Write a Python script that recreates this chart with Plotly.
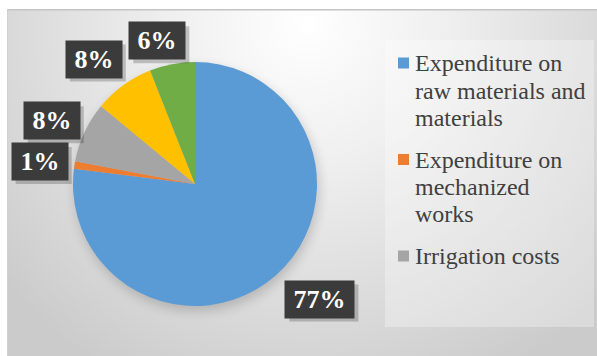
import base64
import math
import plotly.graph_objects as go

# ---- data ----
categories = [
    "Expenditure on raw materials and materials",
    "Expenditure on mechanized works",
    "Irrigation costs",
    "Other costs A",
    "Other costs B",
]
values = [77, 1, 8, 8, 6]
label_texts = ["77%", "1%", "8%", "8%", "6%"]
legend_lines = [
    ["Expenditure on", "raw materials and", "materials"],
    ["Expenditure on", "mechanized", "works"],
    ["Irrigation costs"],
]
colors = ["#5B9BD5", "#ED7D31", "#A5A5A5", "#FFC000", "#70AD47"]

# ---- layout constants ----
W, H = 597, 356
CX, CY, R = 195, 184, 122  # pie center / radius in px
label_nudge = [(20, -4), (5, 3), (6, 7), (-9, 2), (-9, 7)]
SERIF = "Liberation Serif"

BX, BY = 7, 9
bw, bh = W - BX, H - BY
svg = f'''<svg xmlns="http://www.w3.org/2000/svg" width="{bw}" height="{bh}" viewBox="0 0 {bw} {bh}">
<defs>
<radialGradient id="g" cx="300" cy="15" r="400" gradientUnits="userSpaceOnUse">
<stop offset="0" stop-color="#ffffff"/><stop offset="0.35" stop-color="#efefef"/><stop offset="1" stop-color="#cbcbcb"/>
</radialGradient>
<filter id="b" x="-30%" y="-30%" width="160%" height="160%"><feGaussianBlur stdDeviation="6"/></filter>
</defs>
<rect width="{bw}" height="{bh}" fill="url(#g)"/>
<rect x="0" y="0" width="{bw}" height="1.5" fill="#c4c4c4"/>
<rect x="0" y="0" width="1" height="{bh}" fill="#d0d0d0"/>
<circle cx="{CX - BX + 2}" cy="{CY - BY + 5}" r="{R}" fill="#000" opacity="0.18" filter="url(#b)"/>
</svg>'''
src = "data:image/svg+xml;base64," + base64.b64encode(svg.encode()).decode()

fig = go.Figure()
fig.add_trace(go.Pie(
    labels=categories,
    values=values,
    marker=dict(colors=colors, line=dict(width=0)),
    sort=False,
    direction="clockwise",
    rotation=0,
    textinfo="none",
    showlegend=False,
    domain=dict(x=[(CX - R) / W, (CX + R) / W], y=[1 - (CY + R) / H, 1 - (CY - R) / H]),
))

annotations = []
shapes = []
total = sum(values)
cum = 0
FS = 26
BH_ = 31
for v, t, (nx, ny) in zip(values, label_texts, label_nudge):
    mid = (cum + v / 2) / total * 2 * math.pi
    cum += v
    ux, uy = math.sin(mid), -math.cos(mid)
    bwid = 63 if len(t) > 2 else 50
    hw, hh = bwid / 2 + 3, BH_ / 2 + 3
    edge = min(hw / abs(ux) if abs(ux) > 1e-6 else 1e9, hh / abs(uy) if abs(uy) > 1e-6 else 1e9)
    d = R + 12 + edge
    px, py = CX + d * ux + nx, CY + d * uy + ny
    # shadow
    shapes.append(dict(type="rect", xref="paper", yref="paper",
                       x0=(px - hw + 4) / W, x1=(px + hw + 4) / W,
                       y0=1 - (py + hh + 4) / H, y1=1 - (py - hh + 4) / H,
                       fillcolor="rgba(0,0,0,0.2)", line=dict(width=0)))
    annotations.append(dict(
        x=px / W, y=1 - py / H, xref="paper", yref="paper",
        text=f"<b>{t}</b>", showarrow=False, xanchor="center", yanchor="middle",
        width=bwid, height=BH_, borderpad=3, bgcolor="#3b3b3b",
        font=dict(family=SERIF, size=FS, color="#ffffff"),
    ))

# legend panel
shapes.insert(0, dict(type="rect", xref="paper", yref="paper",
                      x0=385 / W, x1=594 / W, y0=1 - 327 / H, y1=1 - 40 / H,
                      fillcolor="rgba(255,255,255,0.3)", line=dict(width=0), layer="below"))

LS = 27.5
y = 63
for i, lines in enumerate(legend_lines):
    shapes.append(dict(type="rect", xref="paper", yref="paper",
                       x0=398 / W, x1=409 / W, y0=1 - (y + 5.5) / H, y1=1 - (y - 5.5) / H,
                       fillcolor=colors[i], line=dict(width=0)))
    for j, ln in enumerate(lines):
        annotations.append(dict(
            x=413 / W, y=1 - (y + j * LS) / H, xref="paper", yref="paper",
            text=ln, showarrow=False, xanchor="left", yanchor="middle",
            font=dict(family=SERIF, size=24, color="#404040"),
        ))
    y += len(lines) * LS + 14

fig.update_layout(
    width=W, height=H, margin=dict(l=0, r=0, t=0, b=0),
    paper_bgcolor="#ffffff", plot_bgcolor="rgba(0,0,0,0)",
    images=[dict(source=src, xref="paper", yref="paper", x=BX / W, y=1 - BY / H,
                 sizex=bw / W, sizey=bh / H, sizing="stretch", layer="below",
                 xanchor="left", yanchor="top")],
    annotations=annotations, shapes=shapes,
)
fig.write_html("out.html")
